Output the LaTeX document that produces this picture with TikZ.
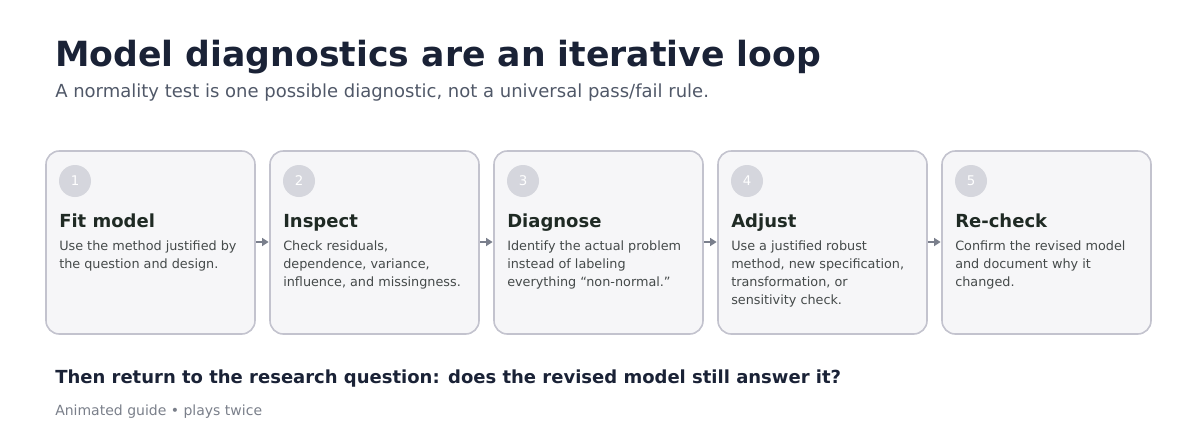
\documentclass[tikz,border=0pt]{standalone}
\usepackage{fontspec}
\setmainfont{DejaVu Sans}
\usetikzlibrary{arrows.meta}
\definecolor{ttl}{HTML}{1A2236}
\definecolor{sub}{HTML}{505868}
\definecolor{ctl}{HTML}{1F2A24}
\definecolor{body}{HTML}{454A4A}
\definecolor{cbord}{HTML}{C3C3CE}
\definecolor{cfill}{HTML}{F6F6F8}
\definecolor{circ}{HTML}{D5D6DD}
\definecolor{arr}{HTML}{7A7F8C}
\definecolor{foot}{HTML}{7A7F8A}
\begin{document}
\begin{tikzpicture}[x=0.75pt,y=-0.75pt,
  card/.style={draw=cbord,line width=1.2pt,fill=cfill,rounded corners=10pt},
  num/.style={circle,fill=circ,minimum size=24pt,inner sep=0pt,text=white,font=\fontsize{10}{12}\selectfont},
  ctitle/.style={anchor=base west,inner sep=0pt,text=ctl,font=\fontsize{13.5}{16}\selectfont\bfseries},
  cbody/.style={anchor=north west,inner sep=0pt,text=body,align=left,font=\fontsize{9.6}{13.5}\selectfont},
  conn/.style={draw=arr,line width=1.5pt,-{Triangle[length=5pt,width=6pt]}}]
\useasboundingbox (0,0) rectangle (1200,440);
\node[anchor=base west,inner sep=0pt,text=ttl,font=\fontsize{26}{30}\selectfont\bfseries] (title) at (55,66) {Model diagnostics are an iterative loop};
\node[anchor=base west,inner sep=0pt,text=sub,font=\fontsize{13.5}{16}\selectfont] (subtitle) at (55,97) {A normality test is one possible diagnostic, not a universal pass/fail rule.};
\foreach \i/\x/\t/\b in {1/46/Fit model/{Use the method justified by\\the question and design.},
  2/270/Inspect/{Check residuals,\\dependence, variance,\\influence, and missingness.},
  3/494/Diagnose/{Identify the actual problem\\instead of labeling\\everything “non-normal.”},
  4/718/Adjust/{Use a justified robust\\method, new specification,\\transformation, or\\sensitivity check.},
  5/942/Re-check/{Confirm the revised model\\and document why it\\changed.}}{
  \draw[card] (\x,151) rectangle ++(209,183);
  \coordinate (L\i) at (\x,242);
  \coordinate (R\i) at (\x+209,242);
  \node[num] (n\i) at (\x+29,181) {\i};
  \node[ctitle] (t\i) at (\x+13,227) {\t};
  \node[cbody] (b\i) at (\x+13,241) {\b};
}
\foreach \a/\b in {1/2,2/3,3/4,4/5}{
  \draw[conn] ([xshift=1pt]R\a) -- ([xshift=-1pt]L\b);
}
\node[anchor=base west,inner sep=0pt,text=ttl,font=\fontsize{13.5}{16}\selectfont\bfseries] (q) at (55,383) {Then return to the research question: does the revised model still answer it?};
\node[anchor=base west,inner sep=0pt,text=foot,font=\fontsize{10.5}{13}\selectfont] (f) at (55,415) {Animated guide • plays twice};
\end{tikzpicture}
\end{document}
